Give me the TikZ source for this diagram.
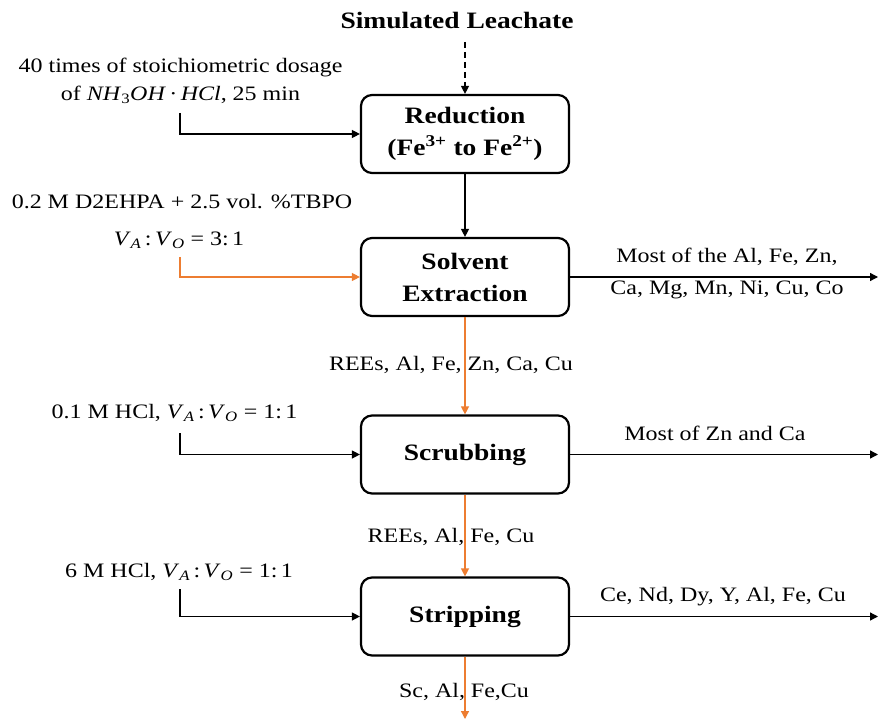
\documentclass[tikz,border=0pt]{standalone}
\usepackage{fontspec}
\setmainfont{Liberation Serif}[FakeStretch=1.17]
\usetikzlibrary{arrows.meta}
\definecolor{orangeline}{RGB}{237,125,49}
\newcommand{\vr}{\textit{V}\textsubscript{\textit{A}}\,:\,\textit{V}\textsubscript{\textit{O}} = }
\tikzset{
  proc/.style={draw, line width=2.2pt, rounded corners=11pt, minimum width=208pt,
    minimum height=78pt, align=center, inner sep=0pt,
    font=\fontsize{23.5}{32}\selectfont\bfseries},
  lbl/.style={font=\fontsize{20.5}{24}\selectfont, inner sep=0pt, align=center},
  flow/.style={line width=1.3pt, -{Triangle[length=8pt,width=8pt]}},
  oflow/.style={flow, orangeline},
}
\begin{document}
\begin{tikzpicture}[x=1pt,y=-1pt]
\path[use as bounding box] (0,0) rectangle (878,719);

% title
\node[lbl, font=\fontsize{23.5}{27}\selectfont\bfseries] (src) at (457,20) {Simulated Leachate};
\coordinate (srcb) at (465,42);

% process boxes
\node[proc] (red) at (465,134) {Reduction\\(Fe\textsuperscript{3+} to Fe\textsuperscript{2+})};
\node[proc] (sx)  at (465,277) {Solvent\\Extraction};
\node[proc] (scr) at (465,454.5) {Scrubbing};
\node[proc] (str) at (465,616.5) {Stripping};
\coordinate (endb) at (465,719);

% main flow labels
\node[lbl] (l1) at (451,365) {REEs, Al, Fe, Zn, Ca, Cu};
\node[lbl] (l2) at (451,537) {REEs, Al, Fe, Cu};
\node[lbl] (l3) at (464,692) {Sc, Al, Fe,Cu};

% main flow
\draw[flow, dash pattern=on 6pt off 4pt] (srcb) -- (red.north);
\draw[flow] (red) -- (sx);
\draw[oflow] (sx) -- (scr);
\draw[oflow] (scr) -- (str);
\draw[oflow] (str) -- (endb);

% left inputs
\node[lbl] (in1a) at (180.5,67) {40 times of stoichiometric dosage};
\node[lbl] (in1b) at (180.5,95) {of \textit{NH}\textsubscript{3}\textit{OH}\,·\,\textit{HCl}, 25 min};
\coordinate (in1) at (180,113);
\draw[flow] (in1) |- (red.west);

\node[lbl] (in2a) at (182,202) {0.2 M D2EHPA + 2.5 vol. \%TBPO};
\node[lbl] (in2b) at (179,240) {\vr 3:\,1};
\coordinate (in2) at (180,257);
\draw[oflow] (in2) |- (sx.west);

\node[lbl] (in3) at (174.5,413) {0.1 M HCl, \vr 1:\,1};
\coordinate (in3c) at (180,433);
\draw[flow] (in3c) |- (scr.west);

\node[lbl] (in4) at (179,572) {6 M HCl, \vr 1:\,1};
\coordinate (in4c) at (180,589);
\draw[flow] (in4c) |- (str.west);

% right outputs
\coordinate (o1) at (878,277);
\coordinate (o2) at (878,454.5);
\coordinate (o3) at (878,616.5);
\draw[flow] (sx.east) -- (o1);
\draw[flow] (scr.east) -- (o2);
\draw[flow] (str.east) -- (o3);
\node[lbl] (r1a) at (727,257) {Most of the Al, Fe, Zn,};
\node[lbl] (r1b) at (727,290) {Ca, Mg, Mn, Ni, Cu, Co};
\node[lbl] (r2) at (715,433) {Most of Zn and Ca};
\node[lbl] (r3) at (723,597) {Ce, Nd, Dy, Y, Al, Fe, Cu};
\end{tikzpicture}
\end{document}
